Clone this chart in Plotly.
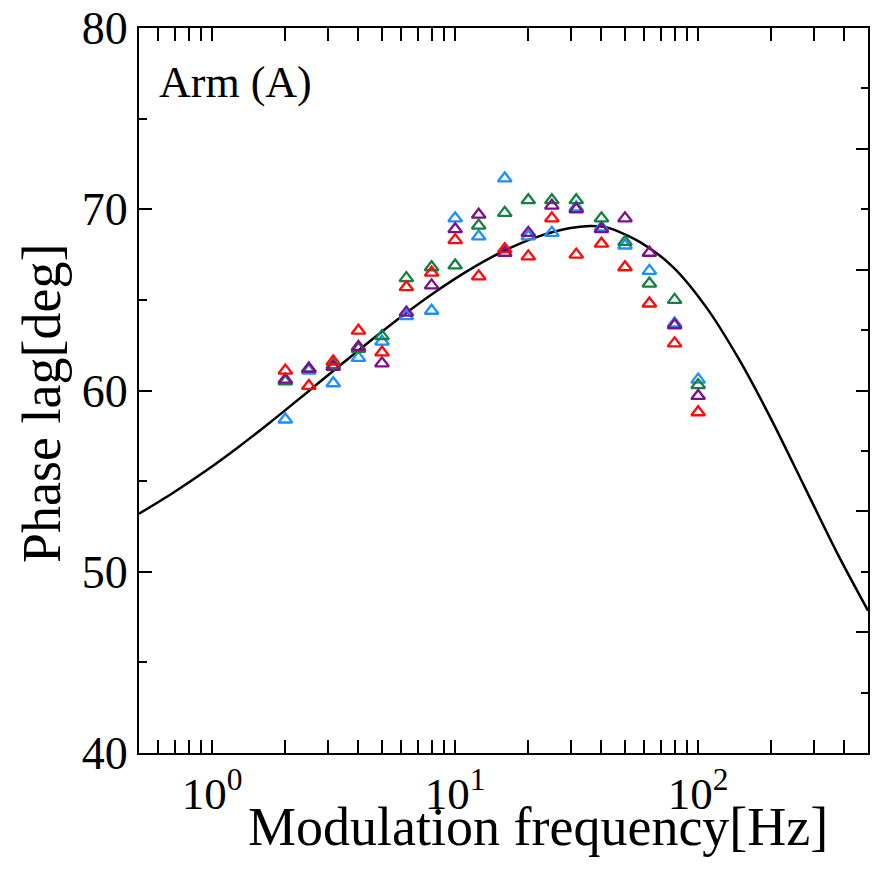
import plotly.graph_objects as go

freq = [2, 2.5, 3.15, 4, 5, 6.3, 8, 10, 12.5, 16, 20, 25, 31.5, 40, 50, 63, 80, 100]
blue   = [58.4, 61.1, 60.4, 61.8, 62.7, 64.1, 64.4, 69.5, 68.5, 71.7, 68.5, 68.7, 70.1, 69.0, 68.0, 66.6, 63.7, 60.6]
green  = [60.5, 61.2, 61.4, 62.3, 63.0, 66.2, 66.8, 66.9, 69.1, 69.8, 70.5, 70.5, 70.5, 69.5, 68.2, 65.9, 65.0, 60.3]
purple = [60.6, 61.2, 61.3, 62.4, 61.5, 64.3, 65.8, 68.9, 69.7, 67.6, 68.7, 70.2, 70.0, 68.9, 69.5, 67.6, 63.6, 59.7]
red    = [61.1, 60.25, 61.6, 63.3, 62.1, 65.7, 66.5, 68.3, 66.3, 67.8, 67.4, 69.5, 67.5, 68.1, 66.8, 64.8, 62.6, 58.8]

fit_freq = [0.5, 0.684, 0.936, 1.28, 1.751, 2.395, 3.278, 4.483, 6.132, 8.39, 11.48, 15.7,
            21.48, 29.38, 35.86, 42.15, 57.67, 78.85, 107.9, 147.6, 201.9, 276, 377.6, 500]
fit_val = [53.2, 54.32, 55.54, 56.87, 58.29, 59.77, 61.27, 62.75, 64.17, 65.49, 66.67, 67.67,
           68.45, 68.95, 69.08, 69.0, 68.19, 66.81, 64.6, 61.7, 58.3, 54.6, 50.9, 47.85]

xtick_vals = [1, 10, 100]
xtick_text = ["10<sup>0</sup>", "10<sup>1</sup>", "10<sup>2</sup>"]
ytick_vals = [40, 50, 60, 70, 80]

series = [("blue", blue, "#1E8FFF"), ("green", green, "#15803F"),
          ("purple", purple, "#7F0F88"), ("red", red, "#FF0A0A")]

FONT = "Liberation Serif, Times New Roman, serif"

fig = go.Figure()
fig.add_trace(go.Scatter(x=fit_freq, y=fit_val, mode="lines",
                         line=dict(color="black", width=2.5, shape="spline", smoothing=0.8),
                         showlegend=False, hoverinfo="skip"))
for name, vals, col in series:
    fig.add_trace(go.Scatter(x=freq, y=vals, mode="markers", name=name,
                             marker=dict(symbol="triangle-up-open", size=12, color=col,
                                         line=dict(color=col, width=2.3)),
                             showlegend=False))
# invisible copy of the fit on the secondary axis so that the right frame axis is drawn
fig.add_trace(go.Scatter(x=fit_freq, y=fit_val, yaxis="y2", mode="lines",
                         line=dict(width=0, color="rgba(0,0,0,0)"), opacity=0,
                         showlegend=False, hoverinfo="skip"))

fig.update_layout(
    width=872, height=892,
    margin=dict(l=139, r=4, t=28, b=139, autoexpand=False),
    paper_bgcolor="white", plot_bgcolor="white",
    font=dict(family=FONT, color="black"),
    xaxis=dict(type="log", range=[-0.30103, 2.69897], automargin=False,
               tickvals=xtick_vals, ticktext=xtick_text,
               ticks="inside", ticklen=13, tickwidth=2, tickcolor="black",
               showline=True, linewidth=2, linecolor="black", mirror="allticks",
               showgrid=False, zeroline=False,
               tickfont=dict(size=45, family=FONT),
               minor=dict(dtick="D1", ticks="inside", ticklen=7, tickwidth=2,
                          tickcolor="black", showgrid=False)),
    yaxis=dict(range=[40, 80], tickvals=ytick_vals, automargin=False,
               ticks="inside", ticklen=13, tickwidth=2, tickcolor="black",
               showline=True, linewidth=2, linecolor="black", mirror=False,
               showgrid=False, zeroline=False,
               tickfont=dict(size=46, family=FONT),
               minor=dict(dtick=5, ticks="inside", ticklen=8, tickwidth=2,
                          tickcolor="black", showgrid=False)),
    yaxis2=dict(overlaying="y", side="right", range=[0, 6], dtick=1, automargin=False,
                ticks="inside", ticklen=12, tickwidth=2, tickcolor="black",
                showline=True, linewidth=2, linecolor="black",
                showticklabels=False, showgrid=False, zeroline=False,
                minor=dict(dtick=0.5, ticks="inside", ticklen=7, tickwidth=2,
                           tickcolor="black", showgrid=False)),
)

# text placed by pixel position in the 872x892 frame, converted to paper coordinates
pl, pr, pt, pb = 139, 868, 28, 753
texts = [
    ("Arm (A)", 157, 82, 44, 0, "left"),
    ("Modulation frequency[Hz]", 538, 827, 54, 0, "center"),
    ("Phase lag[deg]", 42, 404, 54, -90, "center"),
]
for txt, px, py, size, ang, xa in texts:
    fig.add_annotation(text=txt, xref="paper", yref="paper",
                       x=(px - pl) / (pr - pl), y=(pb - py) / (pb - pt),
                       xanchor=xa, yanchor="middle", showarrow=False,
                       textangle=ang, font=dict(size=size, family=FONT))

fig.write_html("out.html", config={"displayModeBar": False},
               post_script="document.body.style.margin='0';document.body.style.overflow='hidden';")
